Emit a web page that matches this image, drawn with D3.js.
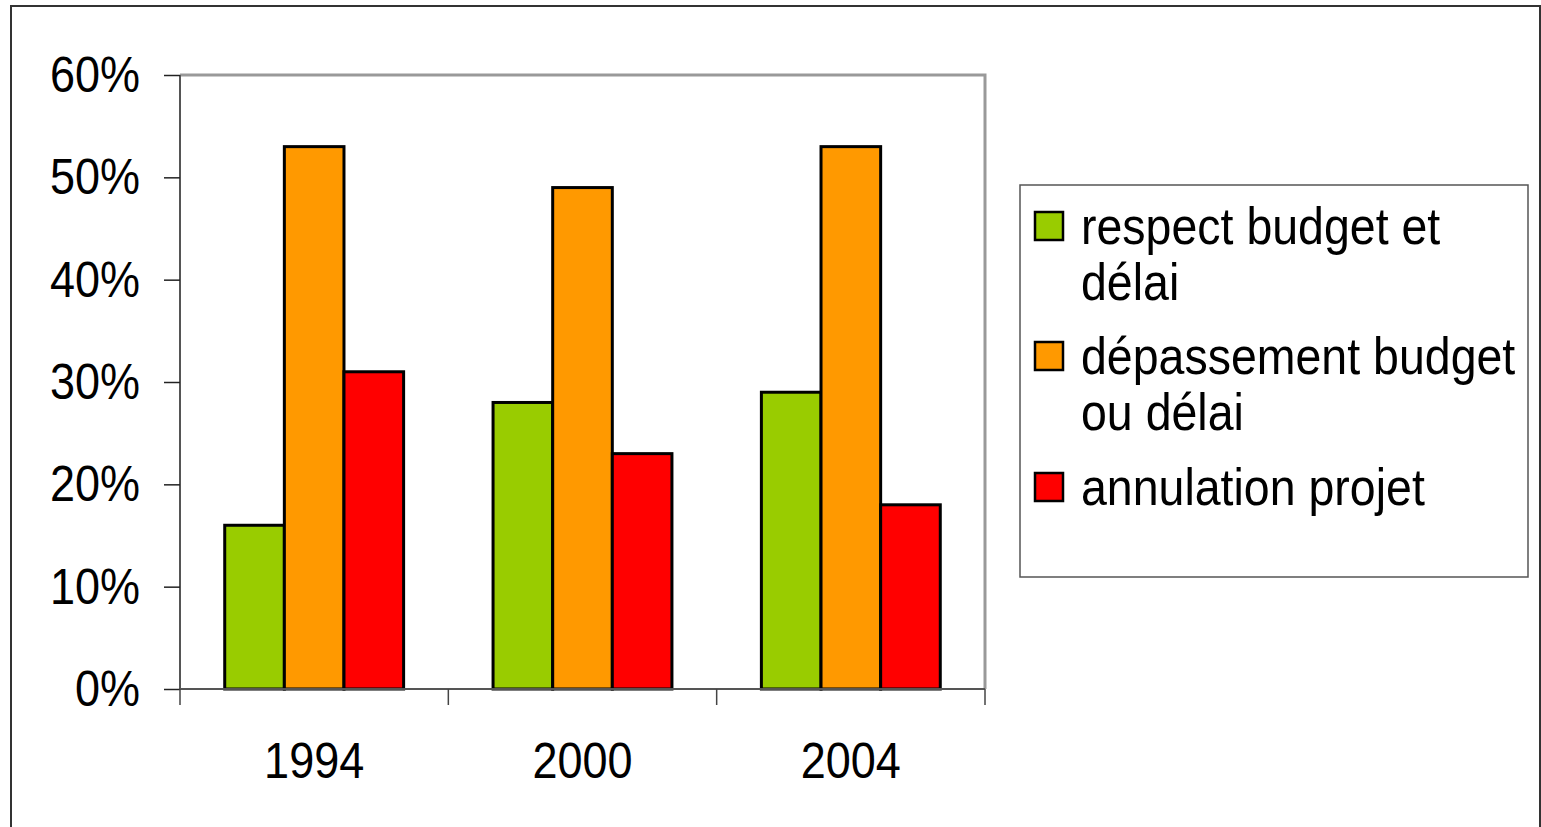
<!DOCTYPE html>
<html><head><meta charset="utf-8">
<script src="https://cdn.jsdelivr.net/npm/d3@7"></script>
<style>
html,body{margin:0;padding:0;background:#fff;}
svg{display:block;font-family:"Liberation Sans",Arial,sans-serif;}
</style></head>
<body>
<svg id="chart" width="1541" height="827"></svg>
<script>
const years = ["1994", "2000", "2004"];
const seriesNames = ["respect budget et délai", "dépassement budget ou délai", "annulation projet"];
const legendLines = [["respect budget et", "délai"], ["dépassement budget", "ou délai"], ["annulation projet"]];
const respect = [0.16, 0.28, 0.29];
const depassement = [0.53, 0.49, 0.53];
const annulation = [0.31, 0.23, 0.18];
const colors = ["#99cc00", "#ff9900", "#ff0000"];
const yTicks = [0, 0.1, 0.2, 0.3, 0.4, 0.5, 0.6];

(function () {
const seriesValues = [respect, depassement, annulation];
const svg = d3.select("#chart");

// outer frame
svg.append("rect").attr("x", 11).attr("y", 6).attr("width", 1529).attr("height", 830)
  .attr("fill", "none").attr("stroke", "#333").attr("stroke-width", 2);

const pL = 180, pR = 985, pT = 75, pB = 689;
const x0 = d3.scaleBand().domain(years).range([pL, pR]).paddingInner(0).paddingOuter(0);
const x1 = d3.scaleBand().domain(d3.range(seriesNames.length)).range([0, x0.bandwidth()]).paddingInner(0).paddingOuter(0.75);
const y = d3.scaleLinear().domain([0, 0.6]).range([pB, pT]);

// plot border (top/right gray)
svg.append("path")
  .attr("d", `M${pL},${pT}H${pR}V${pB}`)
  .attr("fill", "none").attr("stroke", "#999").attr("stroke-width", 3);

// bars
years.forEach((yr, i) => {
  const g = svg.append("g").attr("transform", `translate(${x0(yr)},0)`);
  seriesValues.forEach((vals, s) => {
    g.append("rect")
      .attr("x", x1(s)).attr("width", x1.bandwidth())
      .attr("y", y(vals[i])).attr("height", y(0) - y(vals[i]))
      .attr("fill", colors[s]).attr("stroke", "#000").attr("stroke-width", 3);
  });
});

// y axis
const yAxis = svg.append("g").attr("transform", `translate(${pL},0)`)
  .call(d3.axisLeft(y).tickValues(yTicks).tickFormat(d3.format(".0%")).tickSize(16).tickPadding(24));
yAxis.select(".domain").attr("stroke", "#555").attr("stroke-width", 2).attr("d", `M0,${pT}V${pB}`);
yAxis.selectAll(".tick line").attr("stroke", "#222").attr("stroke-width", 1.5);
yAxis.selectAll(".tick text").attr("font-size", 45).attr("fill", "#000")
  .attr("font-family", "Liberation Sans, Arial, sans-serif")
  .attr("transform", "scale(1,1.1)").attr("dy", "0.33em");

// x axis
const xAxis = svg.append("g").attr("transform", `translate(0,${pB})`)
  .call(d3.axisBottom(x0).tickSize(0).tickPadding(49));
xAxis.select(".domain").attr("stroke", "#555").attr("stroke-width", 2).attr("d", `M${pL},0H${pR}`);
xAxis.selectAll(".tick text").attr("font-size", 45).attr("fill", "#000")
  .attr("font-family", "Liberation Sans, Arial, sans-serif")
  .attr("transform", "scale(1,1.1)");
const bounds = years.map(d => x0(d)).concat([x0(years[years.length - 1]) + x0.step()]);
xAxis.selectAll(".bound").data(bounds).join("line").attr("class", "bound")
  .attr("x1", d => d).attr("x2", d => d).attr("y1", 0).attr("y2", 16)
  .attr("stroke", "#444").attr("stroke-width", 1.5);

// legend
const lg = svg.append("g");
lg.append("rect").attr("x", 1020).attr("y", 185).attr("width", 508).attr("height", 392)
  .attr("fill", "#fff").attr("stroke", "#555").attr("stroke-width", 1.5);
const itemCenters = [226, 356, 487];
legendLines.forEach((lines, s) => {
  const cy = itemCenters[s];
  lg.append("rect").attr("x", 1035).attr("y", cy - 14).attr("width", 28).attr("height", 28)
    .attr("fill", colors[s]).attr("stroke", "#000").attr("stroke-width", 2.5);
  lines.forEach((t, k) => {
    lg.append("text").attr("x", 1081).attr("y", 0)
      .attr("transform", `translate(0,${cy + k * 56}) scale(1,1.1)`)
      .attr("dy", "0.36em")
      .attr("font-size", 46.5).attr("fill", "#000").text(t);
  });
});
})();
</script>
</body></html>
